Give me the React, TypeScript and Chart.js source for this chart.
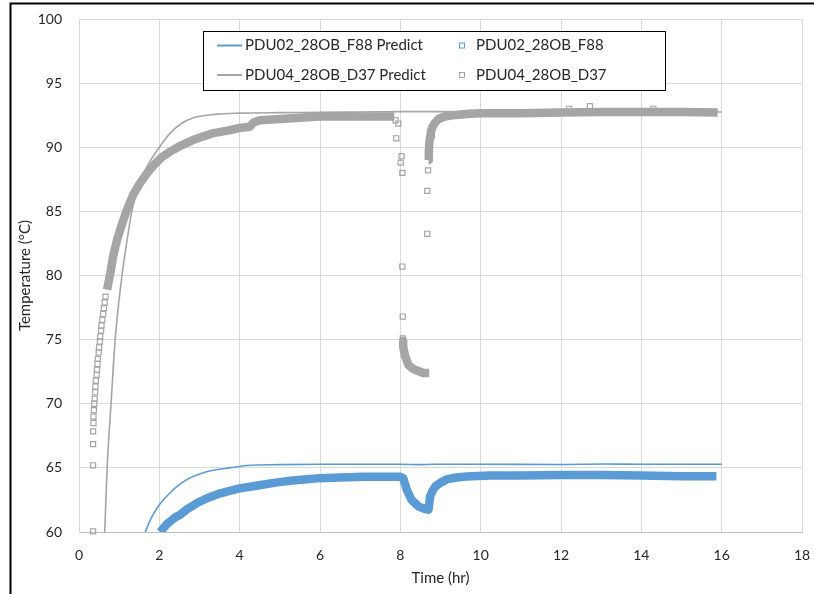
import React, { useEffect, useRef } from "react";
import { Chart, registerables } from "chart.js";

Chart.register(...registerables);

// ---- Data ----
const X_TICKS = [0, 2, 4, 6, 8, 10, 12, 14, 16, 18];
const Y_TICKS = [60, 65, 70, 75, 80, 85, 90, 95, 100];
const SERIES_NAMES = [
  "PDU02_28OB_F88 Predict",
  "PDU02_28OB_F88",
  "PDU04_28OB_D37 Predict",
  "PDU04_28OB_D37",
];
const X_TITLE = "Time (hr)";
const Y_TITLE = "Temperature (°C)";

type P = [number, number | null];

const F88_PRED: P[] = [
  [1.65, 60], [1.8, 61.1], [2.02, 62.2], [2.25, 63.0], [2.52, 63.75], [2.75, 64.2],
  [3.02, 64.55], [3.4, 64.85], [3.76, 65.0], [4.18, 65.18], [5, 65.25], [6, 65.28],
  [7, 65.28], [8, 65.28], [8.5, 65.25], [8.8, 65.28], [10, 65.28], [12, 65.26],
  [13, 65.3], [14, 65.28], [16, 65.28],
];

const F88_OBS_BAND: P[] = [
  [2.02, 60.0], [2.1, 60.3], [2.2, 60.65], [2.3, 60.9], [2.4, 61.15], [2.52, 61.35],
  [2.7, 61.8], [2.94, 62.26], [3.2, 62.65], [3.5, 63.0], [3.75, 63.2], [4.0, 63.4],
  [4.3, 63.55], [4.6, 63.7], [4.9, 63.85], [5.26, 64.0], [5.6, 64.1], [6.0, 64.2],
  [6.5, 64.25], [7.07, 64.3], [7.5, 64.3], [7.8, 64.3], [8.0, 64.3], [8.07, 64.2],
  [8.16, 63.3], [8.28, 62.5], [8.45, 62.0], [8.6, 61.8], [8.7, 61.74], [8.72, 62.2],
  [8.74, 62.77], [8.8, 63.2], [8.87, 63.55], [9.0, 63.85], [9.15, 64.1], [9.4, 64.25],
  [9.65, 64.33], [10.23, 64.4], [11, 64.4], [12, 64.45], [13, 64.45], [14, 64.4],
  [15, 64.35], [15.87, 64.35],
];

const D37_PRED: P[] = [
  [0.64, 60], [0.7, 65], [0.8, 70.1], [0.9, 75], [1.07, 80], [1.2, 82.8], [1.32, 85.1],
  [1.5, 87.2], [1.73, 88.7], [2.0, 90.0], [2.27, 91.1], [2.55, 91.85], [2.85, 92.3],
  [3.43, 92.58], [4.0, 92.66], [5, 92.7], [6, 92.72], [7, 92.75], [8, 92.78], [9, 92.78],
  [10, 92.75], [12, 92.75], [14, 92.78], [16, 92.75],
];

const D37_OBS_BAND: P[] = [
  [0.7, 78.9], [0.78, 80.2], [0.85, 81.5], [0.95, 82.8], [1.07, 84.0], [1.19, 85.1],
  [1.35, 86.3], [1.52, 87.2], [1.7, 88.0], [1.86, 88.6], [2.05, 89.2], [2.27, 89.66],
  [2.55, 90.15], [2.85, 90.58], [3.1, 90.85], [3.35, 91.1], [3.7, 91.3], [4.0, 91.5],
  [4.25, 91.6], [4.35, 91.95], [4.5, 92.1], [5.0, 92.2], [5.5, 92.3], [6.0, 92.4],
  [6.5, 92.4], [7.0, 92.4], [7.5, 92.4], [7.85, 92.4],
  [7.9, null],
  [8.07, 74.9], [8.07, 74.47], [8.12, 73.7], [8.2, 73.04], [8.3, 72.75], [8.37, 72.65],
  [8.57, 72.4], [8.72, 72.4],
  [8.7, null],
  [8.7, 89.0], [8.71, 89.7], [8.72, 90.3], [8.74, 90.8], [8.76, 91.2], [8.8, 91.6],
  [8.86, 91.9], [8.95, 92.2], [9.1, 92.4], [9.3, 92.5], [9.73, 92.62], [10, 92.65],
  [11, 92.65], [12, 92.7], [13, 92.75], [14, 92.75], [15, 92.75], [15.9, 92.7],
];

const D37_OBS_POINTS: P[] = [
  [0.35, 60.05], [0.35, 65.2], [0.35, 66.85], [0.35, 67.85], [0.36, 68.5], [0.36, 69.0],
  [0.37, 69.5], [0.38, 70.0], [0.39, 70.4], [0.4, 70.9], [0.41, 71.35], [0.42, 71.8],
  [0.44, 72.25], [0.45, 72.65], [0.46, 73.1], [0.47, 73.5], [0.49, 74.0], [0.5, 74.4],
  [0.52, 74.85], [0.53, 75.25], [0.55, 75.7], [0.56, 76.1], [0.58, 76.55], [0.6, 77.0],
  [0.62, 77.45], [0.64, 77.9], [0.66, 78.35],
  [7.88, 92.1], [7.95, 91.85], [7.9, 90.7], [8.03, 89.3], [8.01, 88.8], [8.05, 88.0],
  [8.05, 80.7], [8.06, 76.8], [8.06, 75.1],
  [8.67, 83.25], [8.67, 86.6], [8.69, 88.2],
  [12.2, 93.0], [12.72, 93.2], [14.3, 93.0],
];

// ---- Styles ----
const BLUE = "#5b9bd5";
const GREY = "#a5a5a5";
const FONT = 'Lato, "Open Sans", sans-serif';
const TEXT = "#262626";
const GRID = "#d9d9d9";

const toXY = (arr: P[]) => arr.map(([x, y]) => ({ x, y }));

const framePlugin = {
  id: "frame",
  beforeDraw(chart: any) {
    const ctx = chart.ctx;
    ctx.save();
    ctx.fillStyle = "#ffffff";
    ctx.fillRect(0, 0, chart.width, chart.height);
    ctx.strokeStyle = "#000000";
    ctx.lineWidth = 2;
    ctx.beginPath();
    ctx.moveTo(10.5, chart.height);
    ctx.lineTo(10.5, 3.5);
    ctx.lineTo(chart.width, 3.5);
    ctx.stroke();
    ctx.restore();
  },
};

const legendPlugin = {
  id: "insideLegend",
  afterDraw(chart: any) {
    const ctx = chart.ctx;
    const ds = chart.data.datasets;
    ctx.save();
    ctx.fillStyle = "#ffffff";
    ctx.fillRect(203.5, 31.5, 462, 59);
    ctx.strokeStyle = "#000000";
    ctx.lineWidth = 1;
    ctx.strokeRect(203.5, 31.5, 462, 59);
    ctx.font = `15px ${FONT}`;
    ctx.textBaseline = "middle";
    ctx.fillStyle = TEXT;
    const rows = [45.5, 75];
    const items = [
      { name: SERIES_NAMES[0], color: ds[0].borderColor, kind: "line", row: 0 },
      { name: SERIES_NAMES[1], color: ds[1].borderColor, kind: "rect", row: 0 },
      { name: SERIES_NAMES[2], color: ds[2].borderColor, kind: "line", row: 1 },
      { name: SERIES_NAMES[3], color: ds[4].borderColor, kind: "rect", row: 1 },
    ];
    for (const it of items) {
      const y = rows[it.row];
      if (it.kind === "line") {
        ctx.strokeStyle = it.color;
        ctx.lineWidth = 2;
        ctx.beginPath();
        ctx.moveTo(217, y);
        ctx.lineTo(242, y);
        ctx.stroke();
        ctx.fillStyle = TEXT;
        ctx.fillText(it.name, 245, y);
      } else {
        ctx.strokeStyle = it.color;
        ctx.lineWidth = 1;
        ctx.strokeRect(459.5, y - 2.5, 5, 5);
        ctx.fillStyle = TEXT;
        ctx.fillText(it.name, 476, y);
      }
    }
    ctx.restore();
  },
};

export default function App() {
  const ref = useRef<HTMLCanvasElement | null>(null);

  useEffect(() => {
    document.body.style.margin = "0";
    if (!ref.current) return;
    const chart = new Chart(ref.current, {
      type: "scatter",
      data: {
        datasets: [
          {
            label: SERIES_NAMES[0],
            data: toXY(F88_PRED),
            showLine: true,
            cubicInterpolationMode: "monotone",
            borderColor: BLUE,
            borderWidth: 1.6,
            pointRadius: 0,
            order: 4,
          },
          {
            label: SERIES_NAMES[1],
            data: toXY(F88_OBS_BAND),
            showLine: true,
            borderColor: BLUE,
            borderWidth: 8.5,
            borderJoinStyle: "round",
            pointRadius: 0,
            order: 3,
          },
          {
            label: SERIES_NAMES[2],
            data: toXY(D37_PRED),
            showLine: true,
            cubicInterpolationMode: "monotone",
            borderColor: GREY,
            borderWidth: 1.6,
            pointRadius: 0,
            order: 2,
          },
          {
            label: SERIES_NAMES[3],
            data: toXY(D37_OBS_BAND),
            showLine: true,
            spanGaps: false,
            borderColor: GREY,
            borderWidth: 8.5,
            borderJoinStyle: "round",
            pointRadius: 0,
            order: 1,
          },
          {
            label: SERIES_NAMES[3] + " points",
            data: toXY(D37_OBS_POINTS),
            showLine: false,
            borderColor: GREY,
            backgroundColor: "rgba(255,255,255,0)",
            pointStyle: "rect",
            pointRadius: 3.6,
            pointBorderWidth: 1.2,
            clip: false as any,
            order: 0,
          },
        ] as any,
      },
      options: {
        animation: false,
        responsive: false,
        maintainAspectRatio: false,
        layout: { padding: { left: 0, top: 19, right: 12, bottom: 0 } },
        plugins: {
          legend: { display: false },
          tooltip: { enabled: false },
        },
        scales: {
          x: {
            type: "linear",
            min: X_TICKS[0],
            max: X_TICKS[X_TICKS.length - 1],
            afterBuildTicks: (s: any) => {
              s.ticks = X_TICKS.map((v) => ({ value: v }));
            },
            afterFit: (s: any) => {
              s.height = 62;
              s.paddingLeft = 0;
              s.paddingRight = 0;
            },
            grid: { color: GRID, drawTicks: false, lineWidth: 1 },
            border: { color: "#bfbfbf", width: 1 },
            ticks: {
              padding: 15,
              color: TEXT,
              font: { family: FONT, size: 14 },
              maxRotation: 0,
            },
            title: {
              display: true,
              text: X_TITLE,
              color: TEXT,
              font: { family: FONT, size: 15 },
              padding: { top: 0, bottom: 7 },
            },
          },
          y: {
            type: "linear",
            min: Y_TICKS[0],
            max: Y_TICKS[Y_TICKS.length - 1],
            afterBuildTicks: (s: any) => {
              s.ticks = Y_TICKS.map((v) => ({ value: v }));
            },
            afterFit: (s: any) => {
              s.width = 79;
              s.paddingTop = 0;
              s.paddingBottom = 0;
            },
            grid: { color: GRID, drawTicks: false, lineWidth: 1 },
            border: { color: "#d9d9d9", width: 1 },
            ticks: {
              padding: 17,
              color: TEXT,
              font: { family: FONT, size: 14 },
            },
            title: {
              display: true,
              text: Y_TITLE,
              color: TEXT,
              font: { family: FONT, size: 15 },
              padding: { top: 16, bottom: 0 },
            },
          },
        },
      },
      plugins: [framePlugin, legendPlugin],
    });
    return () => chart.destroy();
  }, []);

  return (
    <div style={{ width: 814, height: 594 }}>
      <canvas ref={ref} width={814} height={594} style={{ display: "block" }} />
    </div>
  );
}
